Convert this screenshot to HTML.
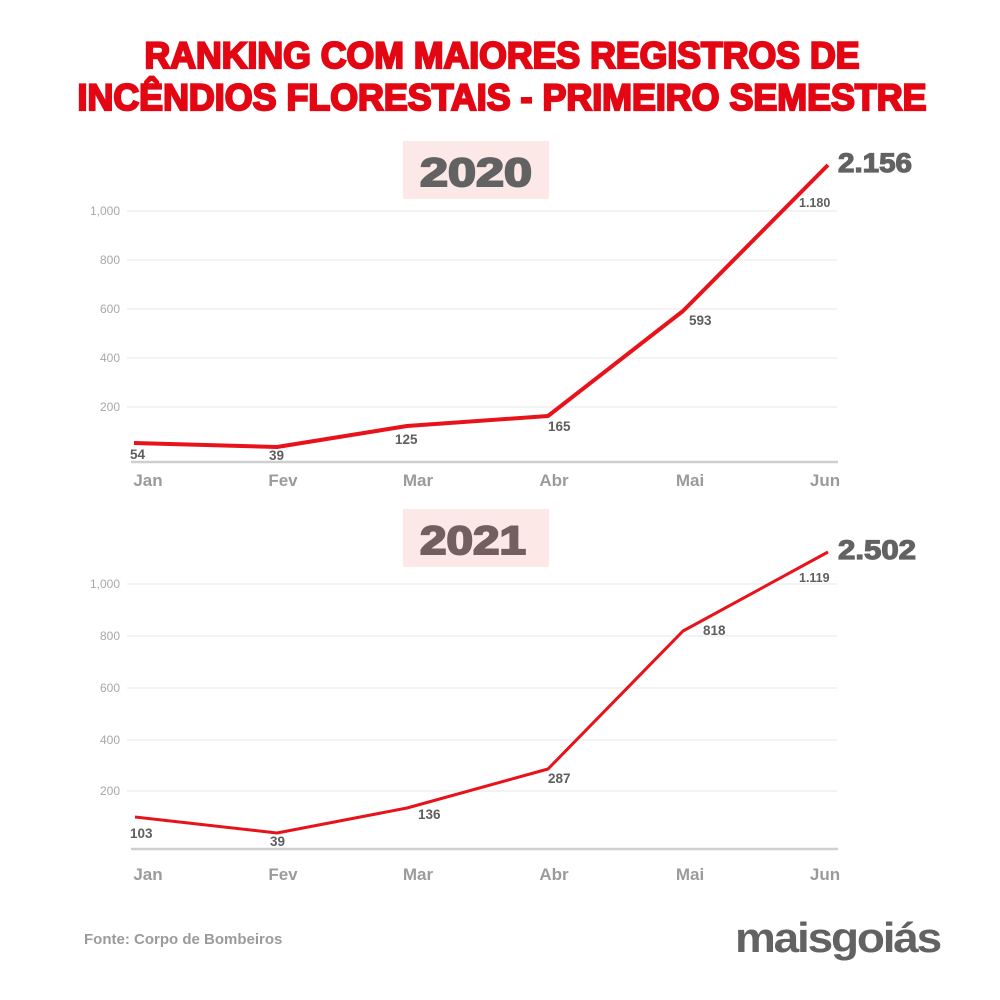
<!DOCTYPE html>
<html><head><meta charset="utf-8"><style>html,body{margin:0;padding:0;background:#fff}svg{display:block}</style></head>
<body>
<svg width="1000" height="1000" viewBox="0 0 1000 1000" xmlns="http://www.w3.org/2000/svg" font-family="'Liberation Sans', sans-serif">
<rect width="1000" height="1000" fill="#fff"/>
<g fill="#e30613" font-weight="900" font-size="37" text-anchor="middle" stroke="#e30613" stroke-width="2.2">
<text x="502" y="68" textLength="715" lengthAdjust="spacingAndGlyphs">RANKING  COM MAIORES REGISTROS DE</text>
<text x="502" y="110" textLength="849" lengthAdjust="spacingAndGlyphs">INCÊNDIOS FLORESTAIS - PRIMEIRO SEMESTRE</text>
</g>
<!-- 2020 -->
<rect x="403" y="141" width="146" height="58" fill="#fde8e8"/>
<text x="476" y="186" text-anchor="middle" font-size="40" font-weight="900" fill="#626262" stroke="#626262" stroke-width="2" textLength="112" lengthAdjust="spacingAndGlyphs">2020</text>
<g stroke="#ececec" stroke-width="1.2">
<line x1="127" y1="211" x2="837" y2="211"/><line x1="127" y1="260" x2="837" y2="260"/><line x1="127" y1="309" x2="837" y2="309"/><line x1="127" y1="358" x2="837" y2="358"/><line x1="127" y1="407" x2="837" y2="407"/>
</g>
<g fill="#a8a8a8" font-size="12" text-anchor="end">
<text x="120" y="215">1,000</text><text x="120" y="264">800</text><text x="120" y="313">600</text><text x="120" y="362">400</text><text x="120" y="411">200</text>
</g>
<line x1="131" y1="462" x2="838" y2="462" stroke="#cfcfcf" stroke-width="2.5"/>
<polyline points="134,443 277,447 407,426 548,416 683,311 828,165" fill="none" stroke="#e8121b" stroke-width="4" stroke-linejoin="round"/>
<g fill="#5e5e5e" font-size="13.5" font-weight="bold">
<text x="130" y="459">54</text><text x="269" y="460">39</text><text x="395" y="444">125</text><text x="548" y="431">165</text><text x="689" y="325">593</text><text x="799" y="207" font-size="12.5">1.180</text>
</g>
<text x="838" y="172" font-size="27" font-weight="900" fill="#626262" stroke="#626262" stroke-width="1.2" textLength="74" lengthAdjust="spacingAndGlyphs">2.156</text>
<g fill="#9b9b9b" font-size="17" font-weight="bold" text-anchor="middle">
<text x="148" y="486">Jan</text><text x="283" y="486">Fev</text><text x="418" y="486">Mar</text><text x="554" y="486">Abr</text><text x="690" y="486">Mai</text><text x="825" y="486">Jun</text>
</g>
<!-- 2021 -->
<rect x="403" y="509" width="146" height="58" fill="#fde8e8"/>
<text x="473" y="554" text-anchor="middle" font-size="40" font-weight="900" fill="#725f5f" stroke="#725f5f" stroke-width="2" textLength="106" lengthAdjust="spacingAndGlyphs">2021</text>
<g stroke="#ececec" stroke-width="1.2">
<line x1="127" y1="584" x2="837" y2="584"/><line x1="127" y1="636" x2="837" y2="636"/><line x1="127" y1="688" x2="837" y2="688"/><line x1="127" y1="740" x2="837" y2="740"/><line x1="127" y1="791" x2="837" y2="791"/>
</g>
<g fill="#a8a8a8" font-size="12" text-anchor="end">
<text x="120" y="588">1,000</text><text x="120" y="640">800</text><text x="120" y="692">600</text><text x="120" y="744">400</text><text x="120" y="795">200</text>
</g>
<line x1="131" y1="849" x2="838" y2="849" stroke="#cfcfcf" stroke-width="2.5"/>
<polyline points="135,817 277,833 407,808 548,769 683,631 828,552" fill="none" stroke="#e8121b" stroke-width="3" stroke-linejoin="round"/>
<g fill="#5e5e5e" font-size="13.5" font-weight="bold">
<text x="130" y="838">103</text><text x="270" y="846">39</text><text x="418" y="819">136</text><text x="548" y="783">287</text><text x="703" y="635">818</text><text x="799" y="582" font-size="12.5">1.119</text>
</g>
<text x="838" y="559" font-size="27" font-weight="900" fill="#626262" stroke="#626262" stroke-width="1.2" textLength="78" lengthAdjust="spacingAndGlyphs">2.502</text>
<g fill="#9b9b9b" font-size="17" font-weight="bold" text-anchor="middle">
<text x="148" y="880">Jan</text><text x="283" y="880">Fev</text><text x="418" y="880">Mar</text><text x="554" y="880">Abr</text><text x="690" y="880">Mai</text><text x="825" y="880">Jun</text>
</g>
<text x="84" y="944" font-size="15" font-weight="bold" fill="#9b9b9b">Fonte: Corpo de Bombeiros</text>
<text x="735" y="952" font-size="42" font-weight="bold" fill="#626262" letter-spacing="-2" textLength="205" lengthAdjust="spacingAndGlyphs">mais<tspan font-weight="900">goiás</tspan></text>
</svg>
</body></html>
